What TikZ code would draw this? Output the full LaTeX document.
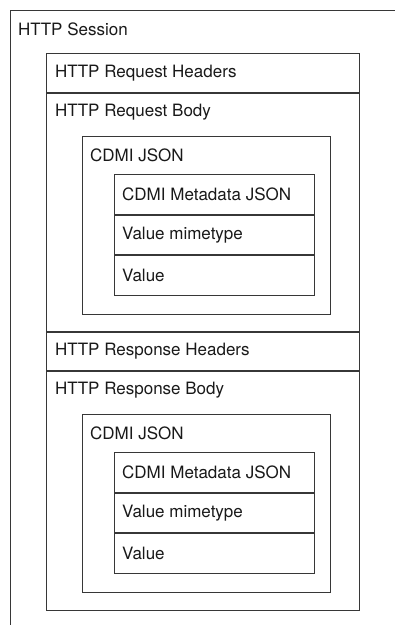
\documentclass[tikz,border=0pt]{standalone}
\usepackage{fontspec}
\setmainfont{TeX Gyre Heros}
\usetikzlibrary{positioning}
\definecolor{frame}{RGB}{55,55,55}
\definecolor{ink}{RGB}{25,25,25}
\tikzset{
  box/.style={draw=frame,line width=1pt,rectangle,inner sep=0pt,anchor=north west},
  tag/.style={anchor=west,inner sep=0pt,font=\fontsize{17}{20}\selectfont,text=ink},
}

\begin{document}
\begin{tikzpicture}[x=1pt,y=-1pt]
  \clip (0,0) rectangle (395,625);
  % session frame runs off the page
  \node[box,minimum width=420pt,minimum height=640pt] (session) at (10,10) {};
  \node[tag] (sessiontag) at (18,29) {HTTP Session};
  \foreach \o/\w in {0/Request,278/Response}
  {
    \node[box,minimum width=313pt,minimum height=39pt] (hdr) at (46,53+\o) {};
    \node[tag,right=9pt of hdr.west] (hdrtag) {HTTP \w{} Headers};
    \node[box,minimum width=313pt,minimum height=239pt] (body) at (hdr.south west) {};
    \node[tag] (bodytag) at ([shift={(9,19)}]body.north west) {HTTP \w{} Body};
    % payload
    \node[box,minimum width=248pt,minimum height=178pt] (json) at (82,136+\o) {};
    \node[tag] (jsontag) at ([shift={(8,19)}]json.north west) {CDMI JSON};
    \node[box,minimum width=200pt,minimum height=40pt] (meta) at (114,174+\o) {};
    \node[tag,right=8pt of meta.west] (metatag) {CDMI Metadata JSON};
    \node[box,minimum width=200pt,minimum height=39pt] (mime) at (meta.south west) {};
    \node[tag,right=8pt of mime.west] (mimetag) {Value mimetype};
    \node[box,minimum width=200pt,minimum height=40pt] (val) at (mime.south west) {};
    \node[tag,right=8pt of val.west] (valtag) {Value};
  }
\end{tikzpicture}
\end{document}
